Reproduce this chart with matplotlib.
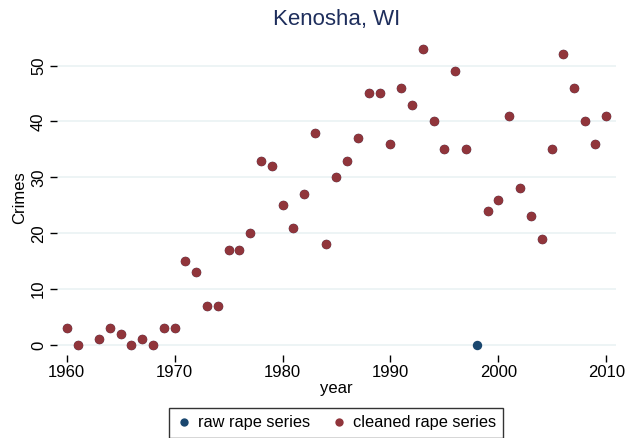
import numpy as np
import matplotlib
matplotlib.use("Agg")
import matplotlib.pyplot as plt
from matplotlib.lines import Line2D

plt.rcParams['font.family'] = ['Liberation Sans', 'DejaVu Sans']

years = [1960, 1961, 1963, 1964, 1965, 1966, 1967, 1968, 1969, 1970,
         1971, 1972, 1973, 1974, 1975, 1976, 1977, 1978, 1979, 1980,
         1981, 1982, 1983, 1984, 1985, 1986, 1987, 1988, 1989, 1990,
         1991, 1992, 1993, 1994, 1995, 1996, 1997, 1998, 1999, 2000,
         2001, 2002, 2003, 2004, 2005, 2006, 2007, 2008, 2009, 2010]
raw = [3, 0, 1, 3, 2, 0, 1, 0, 3, 3,
       15, 13, 7, 7, 17, 17, 20, 33, 32, 25,
       21, 27, 38, 18, 30, 33, 37, 45, 45, 36,
       46, 43, 53, 40, 35, 49, 35, 0, 24, 26,
       41, 28, 23, 19, 35, 52, 46, 40, 36, 41]
cleaned = [3, 0, 1, 3, 2, 0, 1, 0, 3, 3,
           15, 13, 7, 7, 17, 17, 20, 33, 32, 25,
           21, 27, 38, 18, 30, 33, 37, 45, 45, 36,
           46, 43, 53, 40, 35, 49, 35, np.nan, 24, 26,
           41, 28, 23, 19, 35, 52, 46, 40, 36, 41]
x_ticks = [1960, 1970, 1980, 1990, 2000, 2010]
y_ticks = [0, 10, 20, 30, 40, 50]

navy = '#1a476f'
maroon = '#90353b'
grid_col = '#eaf2f3'

fig = plt.figure(figsize=(6.37, 4.38), dpi=100)
ax = fig.add_axes([0.0895, 0.1895, 0.8775, 0.7195])

ax.scatter(years, raw, s=46, color=navy, zorder=3, linewidths=0)
ax.scatter(years, cleaned, s=46, color=maroon, zorder=4, linewidths=0)

ax.set_xlim(1959.1, 2010.9)
ax.set_ylim(-1.8, 54.6)
ax.set_xticks(x_ticks)
ax.set_yticks(y_ticks)
ax.set_yticklabels([str(v) for v in y_ticks], rotation=90, va='center')
ax.tick_params(axis='both', labelsize=12, length=5, width=1, color='black',
               direction='out')
ax.tick_params(axis='x', pad=2)
ax.tick_params(axis='y', pad=3)
for sp in ax.spines.values():
    sp.set_visible(False)
ax.grid(axis='y', color=grid_col, linewidth=1.2, zorder=0)
ax.set_axisbelow(True)

ax.set_xlabel('year', fontsize=12, labelpad=1)
ax.set_ylabel('Crimes', fontsize=12, labelpad=3)
fig.text(0.528, 0.955, 'Kenosha, WI', ha='center', va='center',
         fontsize=16, color='#1e2e5c')

handles = [
    Line2D([], [], marker='o', linestyle='none', markersize=6.0,
           markerfacecolor=navy, markeredgewidth=0, label='raw rape series'),
    Line2D([], [], marker='o', linestyle='none', markersize=6.0,
           markerfacecolor=maroon, markeredgewidth=0, label='cleaned rape series'),
]
leg = fig.legend(handles=handles, loc='upper center',
                 bbox_to_anchor=(0.528, 0.0685),
                 ncol=2, fontsize=11.8, frameon=True, fancybox=False,
                 edgecolor='black', handletextpad=0.4, columnspacing=1.3,
                 borderpad=0.45, handlelength=0.9, borderaxespad=0)
leg.get_frame().set_linewidth(1.0)

fig.savefig('out.png', dpi=100, facecolor='white')
